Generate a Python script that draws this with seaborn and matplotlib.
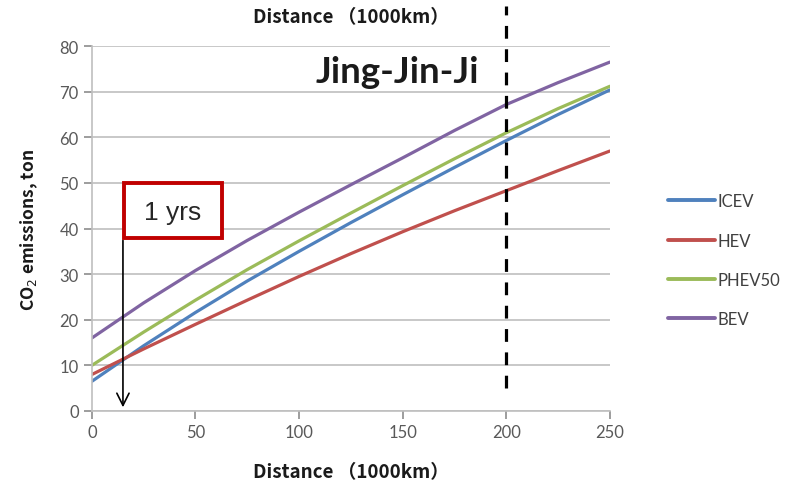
import pandas as pd
import matplotlib
matplotlib.use("Agg")
import matplotlib.pyplot as plt
from matplotlib.patches import Rectangle
import seaborn as sns

# ---- data (distance in 1000 km, CO2 in ton) ----
distance = [0, 25, 50, 75, 100, 125, 150, 175, 200, 225, 250]
icev = [6.5, 14.3, 21.6, 28.5, 35.0, 41.3, 47.4, 53.4, 59.3, 65.0, 70.4]
hev = [8.0, 13.6, 19.0, 24.3, 29.5, 34.5, 39.3, 43.9, 48.3, 52.7, 57.0]
phev50 = [10.0, 17.3, 24.3, 31.0, 37.3, 43.4, 49.4, 55.3, 61.0, 66.3, 71.2]
bev = [16.0, 23.7, 30.8, 37.4, 43.6, 49.6, 55.5, 61.5, 67.2, 72.0, 76.5]

series_names = ["ICEV", "HEV", "PHEV50", "BEV"]
colors = ["#4F81BD", "#C0504D", "#9BBB59", "#8064A2"]

y_ticks = [0, 10, 20, 30, 40, 50, 60, 70, 80]
x_ticks = [0, 50, 100, 150, 200, 250]

df = pd.DataFrame({
    "distance": distance * 4,
    "co2": icev + hev + phev50 + bev,
    "type": sum([[n] * len(distance) for n in series_names], []),
})

sns.set_style("white")
plt.rcParams["font.family"] = ["Lato", "Noto Sans CJK SC"]
label_font = ["Noto Sans CJK SC", "DejaVu Sans"]

fig = plt.figure(figsize=(7.92, 4.81), dpi=100)
ax = fig.add_axes([0.116, 0.1435, 0.654, 0.7585])

sns.lineplot(data=df, x="distance", y="co2", hue="type", hue_order=series_names,
             palette=colors, linewidth=2.3, ax=ax, legend=True)

ax.set_xlim(0, 250)
ax.set_ylim(0, 80)
ax.set_xticks(x_ticks)
ax.set_yticks(y_ticks)
ax.tick_params(axis="both", labelsize=12, colors="#8C8C8C", labelcolor="#595959",
               length=6, width=1.2, direction="out", left=True, bottom=True)
ax.grid(axis="y", color="#BFBFBF", linewidth=1.2)
ax.set_axisbelow(True)
for side in ["top", "right"]:
    ax.spines[side].set_visible(False)
for side in ["left", "bottom"]:
    ax.spines[side].set_color("#BFBFBF")
    ax.spines[side].set_linewidth(1.2)

ax.set_xlabel("Distance （1000km）", fontsize=13.5, fontweight="bold", color="#1A1A1A",
              family=label_font)
ax.xaxis.set_label_coords(0.5, -0.14)
ax.set_ylabel("CO$_2$ emissions, ton", fontsize=12.5, fontweight="bold", color="#1A1A1A",
              family=label_font)
ax.yaxis.set_label_coords(-0.1, 0.5)

# secondary label on top
ax.text(0.5, 1.082, "Distance （1000km）", transform=ax.transAxes, ha="center", va="center",
        fontsize=13.5, fontweight="bold", color="#1A1A1A", family=label_font)

# region label
ax.text(147.5, 74.5, "Jing-Jin-Ji", ha="center", va="center", fontsize=26.5,
        fontweight="bold", color="#1A1A1A")

# dashed line at 200
ax.plot([200, 200], [5, 88.8], color="black", linewidth=2.3, dashes=(4, 3.3),
        clip_on=False)

# "1 yrs" box with arrow
ax.add_patch(Rectangle((15.5, 38), 47.5, 12, facecolor="white", edgecolor="#C00000",
                       linewidth=2.8, zorder=5))
ax.text(39, 43.7, "1 yrs", ha="center", va="center", fontsize=19, color="#262626",
        family=["Liberation Sans"], zorder=6)
ax.annotate("", xy=(15, 0.2), xytext=(15, 38),
            arrowprops=dict(arrowstyle="->", color="black", lw=1.2,
                            mutation_scale=22))

leg = ax.legend(loc="center left", bbox_to_anchor=(0.825, 0.457),
                bbox_transform=fig.transFigure, frameon=False, fontsize=12,
                labelspacing=1.4, handlelength=2.8, handletextpad=0.15)
for t in leg.get_texts():
    t.set_color("#404040")
for h in leg.get_lines():
    h.set_linewidth(2.8)

fig.savefig("out.png", dpi=100)
